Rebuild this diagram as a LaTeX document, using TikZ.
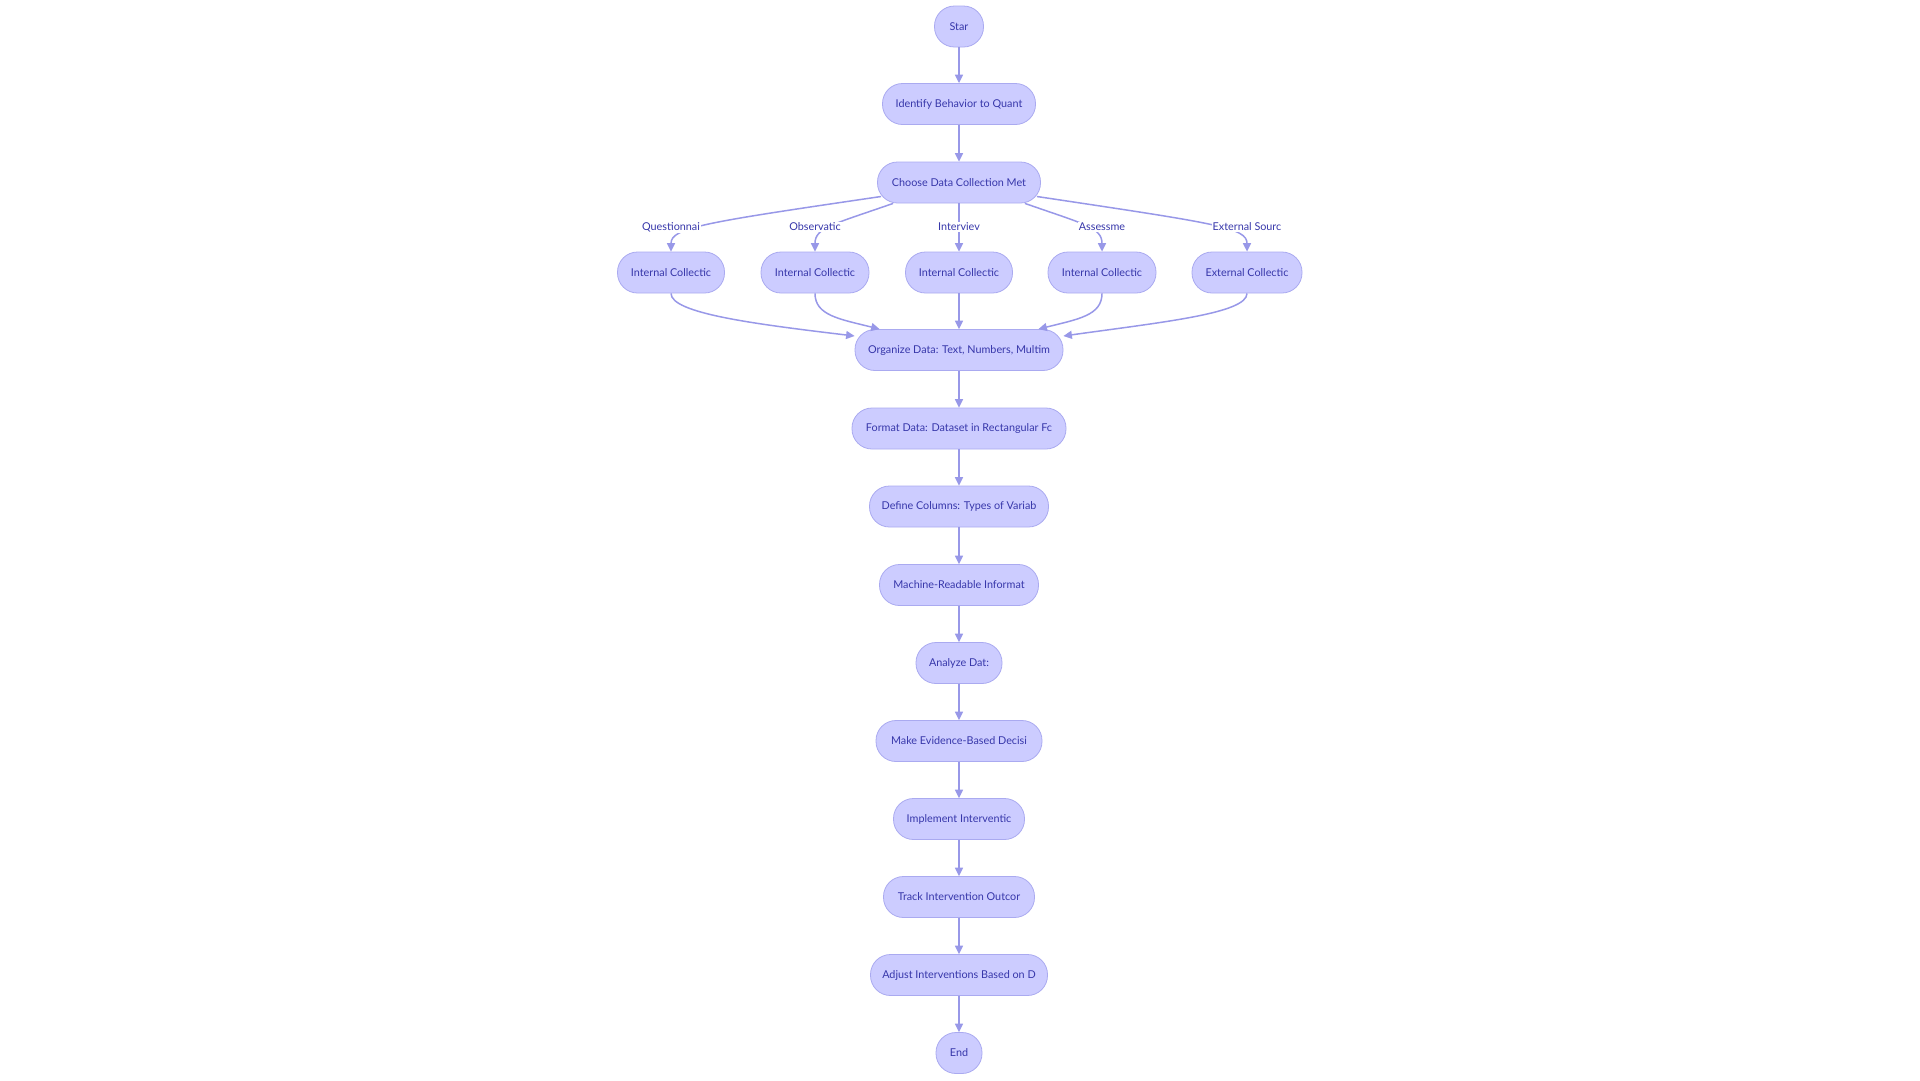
\documentclass[tikz,border=0pt]{standalone}
\usepackage{fontspec}
\setmainfont{Lato}
\usetikzlibrary{arrows.meta}

\definecolor{pillfill}{RGB}{204,204,255}
\definecolor{pillline}{RGB}{170,170,240}
\definecolor{pilltext}{RGB}{55,55,170}
\definecolor{flowline}{RGB}{152,152,232}

\begin{document}
\begin{tikzpicture}[x=1pt, y=-1pt, font=\fontsize{10.8}{13}\selectfont,
   pill/.style={rectangle, rounded corners=20pt, draw=pillline, line width=0.8pt,
                fill=pillfill, text=pilltext, minimum height=41pt, inner sep=0pt},
   flow/.style={draw=flowline, line width=1.5pt, -{Triangle[width=8pt,length=8.5pt]}},
   lbl/.style={fill=white, text=pilltext, inner sep=1pt}]
   \useasboundingbox (0,0) rectangle (1920,1080);

   % main column
   \node[pill, minimum width=49pt]  (st)  at (959,26.5) {Star};
   \node[pill, minimum width=153pt] (id)  at (959,104)  {Identify Behavior to Quant};
   \node[pill, minimum width=163pt] (ch)  at (959,182.5) {Choose Data Collection Met};

   % collection methods
   \node[pill, minimum width=107pt] (iq) at (671,272.5)  {Internal Collectic};
   \node[pill, minimum width=108pt] (io) at (815,272.5)  {Internal Collectic};
   \node[pill, minimum width=107pt] (ii) at (959,272.5)  {Internal Collectic};
   \node[pill, minimum width=108pt] (ia) at (1102,272.5) {Internal Collectic};
   \node[pill, minimum width=110pt] (ie) at (1247,272.5) {External Collectic};

   \node[pill, minimum width=208pt] (org) at (959,350)   {Organize Data: Text, Numbers, Multim};
   \node[pill, minimum width=214pt] (fmt) at (959,428.5) {Format Data: Dataset in Rectangular Fc};
   \node[pill, minimum width=179pt] (def) at (959,506.5) {Define Columns: Types of Variab};
   \node[pill, minimum width=159pt] (mac) at (959,585)   {Machine-Readable Informat};
   \node[pill, minimum width=86pt]  (ana) at (959,663)   {Analyze Dat:};
   \node[pill, minimum width=166pt] (mak) at (959,741)   {Make Evidence-Based Decisi};
   \node[pill, minimum width=131pt] (imp) at (959,819)   {Implement Interventic};
   \node[pill, minimum width=151pt] (trk) at (959,897)   {Track Intervention Outcor};
   \node[pill, minimum width=177pt] (adj) at (959,975)   {Adjust Interventions Based on D};
   \node[pill, minimum width=46pt]  (en)  at (959,1053)  {End};

   \draw[flow] (st) -- (id);
   \draw[flow] (id) -- (ch);

   % fan out
   \draw[flow] ([xshift=4pt,yshift=-14pt]ch.west) .. controls +(-177,26) and +(0,-24) .. (iq.north);
   \draw[flow] ([xshift=16pt]ch.south west) .. controls +(-60,21) and +(0,-24) .. (io.north);
   \draw[flow] (ch) -- (ii);
   \draw[flow] ([xshift=-16pt]ch.south east) .. controls +(60,21) and +(0,-24) .. (ia.north);
   \draw[flow] ([xshift=-4pt,yshift=-14pt]ch.east) .. controls +(180,27) and +(0,-24) .. (ie.north);

   \node[lbl] (lq) at (671,227)  {Questionnai};
   \node[lbl] (lo) at (815,227)  {Observatic};
   \node[lbl] (li) at (959,227)  {Interviev};
   \node[lbl] (la) at (1102,227) {Assessme};
   \node[lbl] (le) at (1247,227) {External Sourc};

   % fan in
   \draw[flow] (iq.south) .. controls +(0,20) and +(-100,-12) .. ([yshift=14pt]org.west);
   \draw[flow] (io.south) .. controls +(0,22) and +(-40,-10) .. ([xshift=25pt]org.north west);
   \draw[flow] (ii) -- (org);
   \draw[flow] (ia.south) .. controls +(0,22) and +(40,-10) .. ([xshift=-25pt]org.north east);
   \draw[flow] (ie.south) .. controls +(0,20) and +(100,-14) .. ([yshift=14pt]org.east);

   \draw[flow] (org) -- (fmt);
   \draw[flow] (fmt) -- (def);
   \draw[flow] (def) -- (mac);
   \draw[flow] (mac) -- (ana);
   \draw[flow] (ana) -- (mak);
   \draw[flow] (mak) -- (imp);
   \draw[flow] (imp) -- (trk);
   \draw[flow] (trk) -- (adj);
   \draw[flow] (adj) -- (en);
\end{tikzpicture}
\end{document}
